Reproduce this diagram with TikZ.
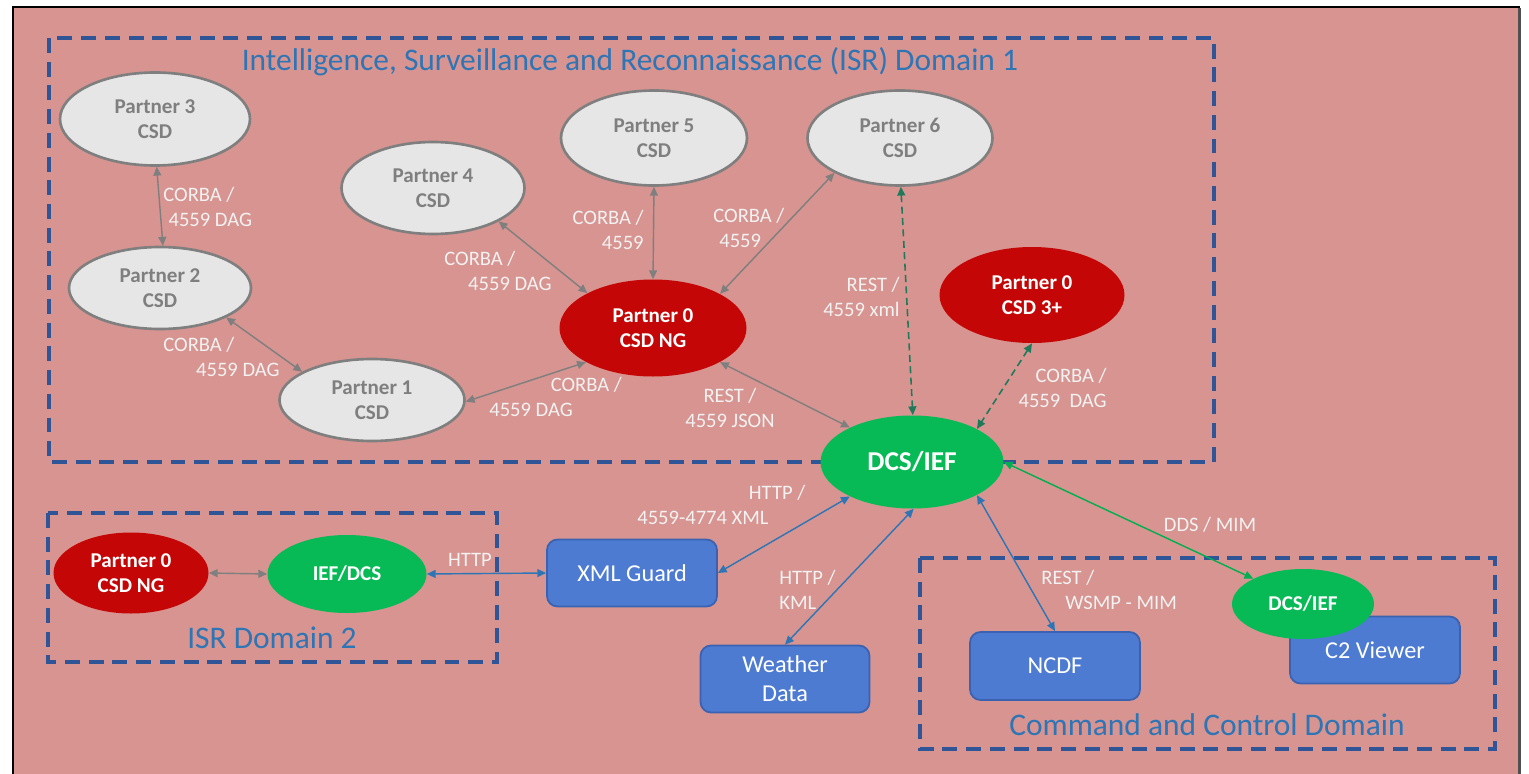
\documentclass[tikz,border=0pt]{standalone}
\usepackage{fontspec}
\setmainfont{Carlito}
\usetikzlibrary{shapes.geometric,arrows.meta}

\definecolor{bgpink}{HTML}{D79490}
\definecolor{domblue}{HTML}{2F5597}
\definecolor{titleblue}{HTML}{2E75B6}
\definecolor{csdfill}{HTML}{E6E6E6}
\definecolor{csdedge}{HTML}{7F7F7F}
\definecolor{ngred}{HTML}{C50606}
\definecolor{iefgreen}{HTML}{07BA56}
\definecolor{boxblue}{HTML}{4D7BD2}
\definecolor{boxedge}{HTML}{3A62B0}
\definecolor{linkblue}{HTML}{2E75B6}
\definecolor{linkgreen}{HTML}{00B050}
\definecolor{linkdkgreen}{HTML}{1F7A5C}
\definecolor{labeltext}{HTML}{F2F2F2}
\definecolor{pageedge}{HTML}{505050}

\tikzset{
  dims/.style 2 args={minimum width=#1*0.02cm, minimum height=#2*0.02cm},
  csd/.style={ellipse, inner sep=0pt, fill=csdfill, draw=csdedge, line width=1.5pt,
    text=csdedge, align=center, font=\bfseries\fontsize{12}{14.2}\selectfont},
  ngnode/.style={ellipse, inner sep=0pt, fill=ngred, text=white, align=center,
    font=\bfseries\fontsize{12}{14.2}\selectfont},
  iefnode/.style={ellipse, inner sep=0pt, fill=iefgreen, text=white, align=center,
    font=\bfseries\fontsize{12}{14.2}\selectfont},
  sysbox/.style={rectangle, rounded corners=6pt, inner sep=0pt, fill=boxblue, draw=boxedge,
    line width=1pt, text=white, align=center, font=\fontsize{13.8}{16.4}\selectfont},
  domframe/.style={draw=domblue, line width=2pt, dash pattern=on 8.5pt off 5pt},
  domtitle/.style={text=titleblue, inner sep=0pt, font=\fontsize{17.9}{20}\selectfont},
  lbl/.style={text=labeltext, inner sep=0pt, font=\fontsize{11.7}{14.2}\selectfont},
  graylink/.style={draw=csdedge, line width=0.8pt, {Triangle[length=5pt,width=4.5pt]}-{Triangle[length=5pt,width=4.5pt]}},
  bluelink/.style={draw=linkblue, line width=0.8pt, {Triangle[length=5pt,width=4.5pt]}-{Triangle[length=5pt,width=4.5pt]}},
  greenlink/.style={draw=linkgreen, line width=0.8pt, {Triangle[length=5pt,width=4.5pt]}-{Triangle[length=5pt,width=4.5pt]}},
  dkgreenlink/.style={draw=linkdkgreen, line width=0.9pt, dash pattern=on 4pt off 2.5pt,
    {Triangle[length=5pt,width=4.5pt]}-{Triangle[length=5pt,width=4.5pt]}},
}

\begin{document}
\begin{tikzpicture}[x=0.02cm, y=-0.02cm]
\useasboundingbox (0,0) rectangle (1529,774);
\fill[white] (0,0) rectangle (1529,774);
\draw[fill=bgpink, draw=black, line width=0.8pt] (13,790) -- (13,7) -- (1519,7) -- (1519,790);
\draw[pageedge, line width=1.2pt] (1519.5,8) -- (1519.5,790);

% domain frames
\draw[domframe] (49,38) rectangle (1214,462);
\draw[domframe] (48,513) rectangle (497,662);
\draw[domframe] (920,558) rectangle (1495,749);

\node[domtitle] (t1) at (630,62) {Intelligence, Surveillance and Reconnaissance (ISR) Domain 1};
\node[domtitle] (t2) at (272,638) {ISR Domain 2};
\node[domtitle] (t3) at (1207,725) {Command and Control Domain};

% ISR domain 1 partners
\node[csd, dims={190}{93}] (p3) at (155,119) {Partner 3\\CSD};
\node[csd, dims={182}{82}] (p2) at (160,288) {Partner 2\\CSD};
\node[csd, dims={185}{82}] (p1) at (372,400) {Partner 1\\CSD};
\node[csd, dims={183}{92}] (p4) at (433,188) {Partner 4\\CSD};
\node[csd, dims={186}{95}] (p5) at (654,138) {Partner 5\\CSD};
\node[csd, dims={185}{95}] (p6) at (900,138) {Partner 6\\CSD};
\node[ngnode, dims={187}{97}] (p0) at (653,328) {Partner 0\\CSD NG};
\node[ngnode, dims={185}{96}] (p03) at (1032,295) {Partner 0\\CSD 3+};
\node[iefnode, dims={183}{93}, font=\bfseries\fontsize{15.5}{18}\selectfont] (dcs) at (912,462) {DCS/IEF};

% ISR domain 2
\node[ngnode, dims={155}{81}] (p0b) at (131,573) {Partner 0\\CSD NG};
\node[iefnode, dims={159}{78}] (iefb) at (347,574) {IEF/DCS};

% services
\node[sysbox, dims={170}{67}] (xml) at (632,573) {XML Guard};
\node[sysbox, dims={169}{67}] (wx) at (785,679) {Weather\\Data};
\node[sysbox, dims={170}{68}] (ncdf) at (1055,666) {NCDF};
\node[sysbox, dims={170}{67}] (c2) at (1375,650) {C2 Viewer};
\node[iefnode, dims={142}{70}] (dcsb) at (1303,604) {DCS/IEF};

% links inside ISR domain 1
\draw[graylink] (p3.-88) -- (p2.86);
\draw[graylink] (p2.-24) -- (p1.158);
\draw[graylink] (p1.-1) -- (p0.207);
\draw[graylink] (p4.-27) -- (p0.152);
\draw[graylink] (p5.-90) -- (p0.90);
\draw[graylink] (p6.208) -- (p0.27);
\draw[graylink] (p0.-27) -- (dcs.151);
\draw[dkgreenlink] (p6.-89) -- (dcs.89);
\draw[dkgreenlink] (p03.-90) -- (dcs.27);

% links to the other domains
\draw[graylink] (p0b.east) -- (iefb.west);
\draw[bluelink] (iefb.east) -- (xml.west);
\draw[bluelink] (dcs.209) -- (xml.east);
\draw[bluelink] (dcs.-88) -- (wx.north);
\draw[bluelink] (dcs.-27) -- (ncdf.north);
\draw[greenlink] (dcs.0) -- (dcsb.153);

% link labels
\node[lbl, anchor=west, align=left] (l1) at (163,207) {CORBA /\\\hspace*{3pt}4559 DAG};
\node[lbl, anchor=west, align=left] (l2) at (163,357) {CORBA /\\\hspace*{18.7pt}4559 DAG};
\node[lbl, anchor=west, align=left] (l3) at (444,271) {CORBA /\\\hspace*{13.6pt}4559 DAG};
\node[lbl, anchor=east, align=right] (l4) at (644,230) {CORBA /\\4559};
\node[lbl, anchor=west, align=left] (l5) at (713,228) {CORBA /\\\hspace*{3.4pt}4559};
\node[lbl, anchor=west, align=left] (l6) at (489,397) {\hspace*{35pt}CORBA /\\4559 DAG};
\node[lbl, align=center] (l7) at (730,408) {REST /\\4559 JSON};
\node[lbl, anchor=east, align=right] (l8) at (900,297) {REST /\\4559 xml};
\node[lbl, anchor=east, align=right] (l9) at (1107,388) {CORBA /\\4559~~DAG};
\node[lbl, anchor=west, align=left] (l10) at (637,505) {\hspace*{63.5pt}HTTP /\\4559-4774 XML};
\node[lbl, anchor=west, align=left] (l11) at (779,590) {HTTP /\\KML};
\node[lbl, anchor=west, align=left] (l12) at (1041,590) {REST /\\\hspace*{13.6pt}WSMP - MIM};
\node[lbl] (l13) at (1210,525) {DDS / MIM};
\node[lbl] (l14) at (470,560) {HTTP};
\end{tikzpicture}
\end{document}
